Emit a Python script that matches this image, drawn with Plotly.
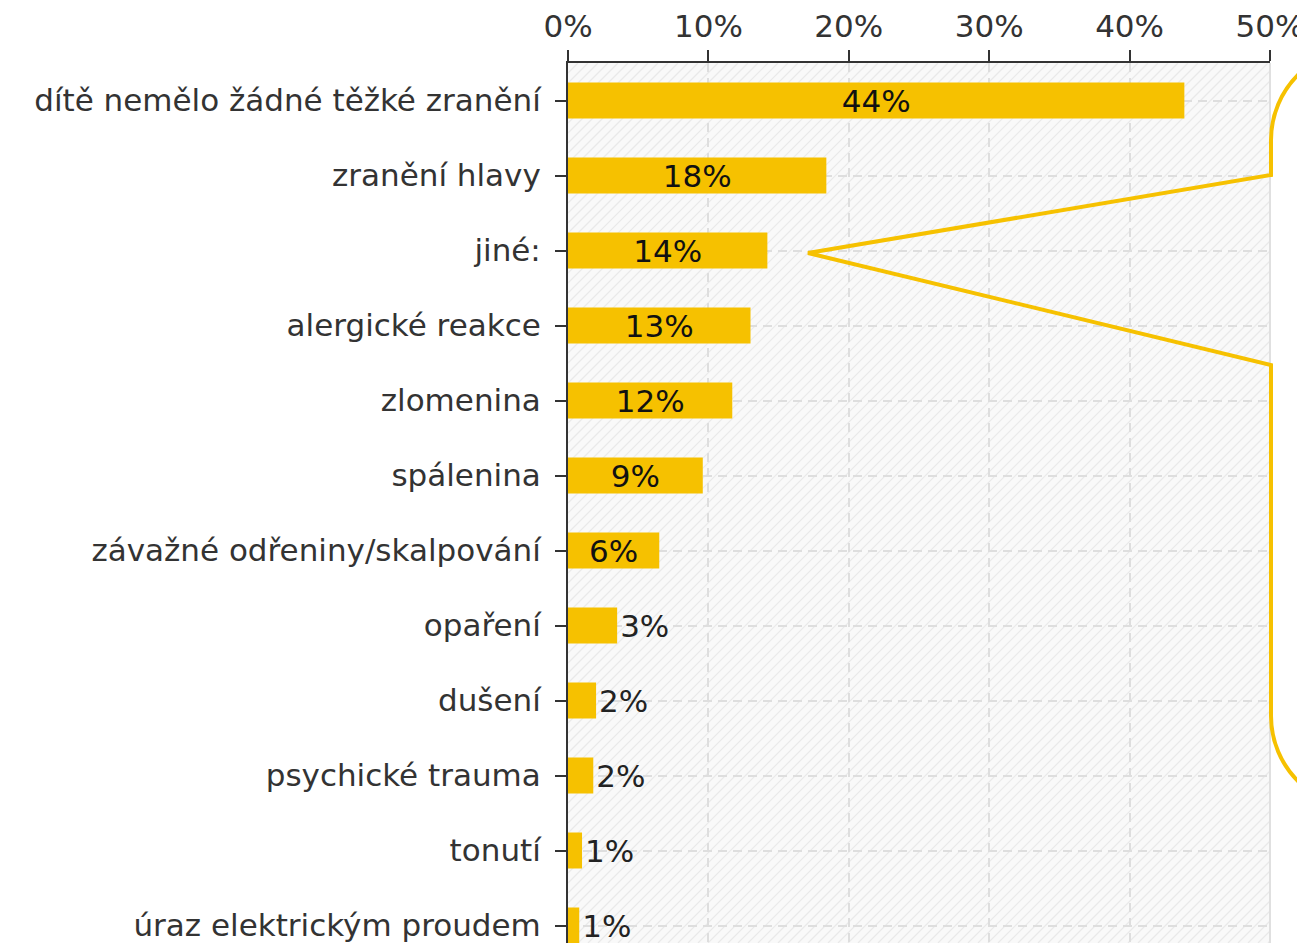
import plotly.graph_objects as go

# Data
categories = ['dítě nemělo žádné těžké zranění', 'zranění hlavy', 'jiné:',
              'alergické reakce', 'zlomenina', 'spálenina',
              'závažné odřeniny/skalpování', 'opaření', 'dušení',
              'psychické trauma', 'tonutí', 'úraz elektrickým proudem']
shares = [43.9, 18.4, 14.2, 13.0, 11.7, 9.6, 6.5, 3.5, 2.0, 1.8, 1.0, 0.8]
share_labels = ['44%', '18%', '14%', '13%', '12%', '9%', '6%', '3%', '2%', '2%', '1%', '1%']
x_ticks = [0, 10, 20, 30, 40, 50]
x_tick_labels = ['0%', '10%', '20%', '30%', '40%', '50%']

YELLOW = '#F6C100'
FONT = 'DejaVu Sans'
FS = 31

# Geometry: the page body has an 8px margin, the figure sits inside it
OFF = 8
W, H = 1297, 935
ML, MR, MT, MB = 560, 35, 55, 0
PW, PH = W - ML - MR, H - MT - MB


def to_paper(px, py):
    # page pixels -> paper coordinates
    return (px - OFF - ML) / PW, (OFF + H - MB - py) / PH


# inside labels for the wider bars, outside for the small ones
positions = ['inside' if v >= 5 else 'outside' for v in shares]

fig = go.Figure()
fig.add_trace(go.Bar(
    x=shares, y=categories, orientation='h',
    marker=dict(color=YELLOW, line=dict(width=0)),
    width=0.48,
    text=share_labels, textposition=positions,
    insidetextanchor='middle', constraintext='none', textangle=0,
    textfont=dict(family=FONT, size=FS, color='#111111'),
    outsidetextfont=dict(family=FONT, size=FS, color='#222222'),
    cliponaxis=False, hoverinfo='skip',
))

shapes = []
# diagonal hatch behind the plot area
step = 10
x = -PH
while x < PW:
    x0, y0 = x, 0
    x1, y1 = x + PH, PH
    if x0 < 0:
        y0 = -x0
        x0 = 0
    if x1 > PW:
        y1 = PH - (x1 - PW)
        x1 = PW
    if y1 > y0:
        shapes.append(dict(type='line', xref='paper', yref='paper', layer='below',
                           x0=x0 / PW, y0=y0 / PH, x1=x1 / PW, y1=y1 / PH,
                           line=dict(color='#e9e9e9', width=1.2)))
    x += step

# light right border of the plot area
shapes.append(dict(type='line', xref='paper', yref='paper', layer='below',
                   x0=1, x1=1, y0=0, y1=1, line=dict(color='#e0e0e0', width=2)))

# speech-bubble callout pointing at "jiné:"
pts = [(1363, 48), (1312.2, 48), (1271, 89.2), (1271, 140), (1271, 175), (808, 253),
       (1271, 365), (1271, 716), (1271, 766.8), (1312.2, 808), (1363, 808)]
p = [to_paper(*q) for q in pts]
path = ('M {0[0]},{0[1]} C {1[0]},{1[1]} {2[0]},{2[1]} {3[0]},{3[1]} '
        'L {4[0]},{4[1]} L {5[0]},{5[1]} L {6[0]},{6[1]} L {7[0]},{7[1]} '
        'C {8[0]},{8[1]} {9[0]},{9[1]} {10[0]},{10[1]}').format(*p)
shapes.append(dict(type='path', xref='paper', yref='paper', path=path, layer='above',
                   line=dict(color=YELLOW, width=4)))

n_visible = PH / 75.0

fig.update_layout(
    width=W, height=H,
    margin=dict(l=ML, r=MR, t=MT, b=MB, pad=0),
    paper_bgcolor='white', plot_bgcolor='#f9f9f9',
    showlegend=False,
    font=dict(family=FONT, size=FS, color='#333333'),
    shapes=shapes,
)
fig.update_xaxes(
    side='top', range=[0, 50], tickvals=x_ticks, ticktext=x_tick_labels,
    showgrid=True, gridcolor='#dedede', gridwidth=1.5, griddash='9px,6px',
    showline=True, linecolor='#333333', linewidth=2,
    ticks='outside', ticklen=11, tickwidth=2, tickcolor='#333333',
    ticklabelstandoff=1,
    tickfont=dict(family=FONT, size=FS, color='#333333'),
    zeroline=False, fixedrange=True,
)
fig.update_yaxes(
    type='category', categoryorder='array', categoryarray=categories,
    range=[n_visible - 0.5, -0.5],
    showgrid=True, gridcolor='#dedede', gridwidth=1.5, griddash='9px,6px',
    showline=True, linecolor='#333333', linewidth=2,
    ticks='outside', ticklen=11, tickwidth=2, tickcolor='#333333',
    ticklabelstandoff=8,
    tickfont=dict(family=FONT, size=FS, color='#333333'),
    fixedrange=True,
)

fig.write_html("out.html")
